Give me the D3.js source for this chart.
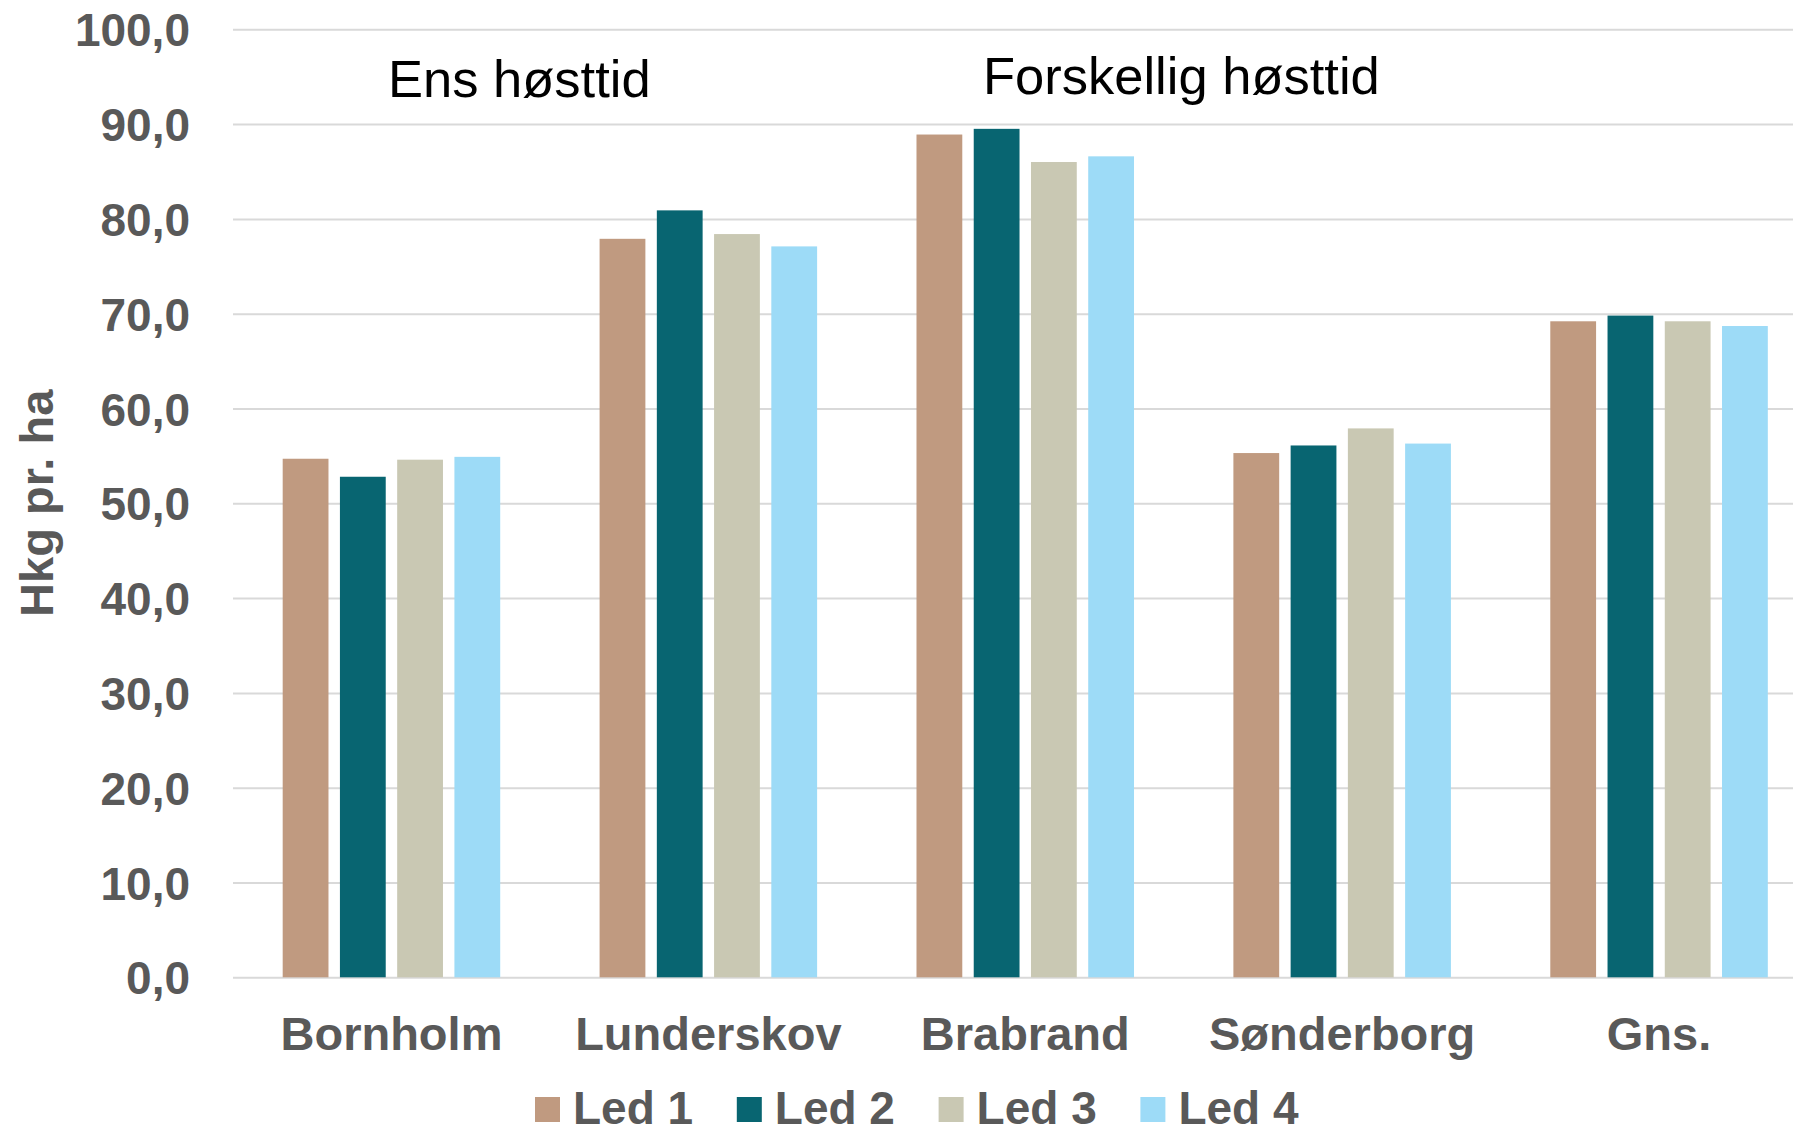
<!DOCTYPE html>
<html>
<head>
<meta charset="utf-8">
<script src="https://cdn.jsdelivr.net/npm/d3@7"></script>
<style>
    body { margin: 0; background: #fff; }
    svg { display: block; font-family: Arial, "Liberation Sans", sans-serif; }
</style>
</head>
<body>
<svg id="chart" width="1793" height="1129"></svg>
<script>
const categories = ["Bornholm", "Lunderskov", "Brabrand", "Sønderborg", "Gns."];
const seriesNames = ["Led 1", "Led 2", "Led 3", "Led 4"];
const led1 = [54.7, 77.9, 88.9, 55.3, 69.2];
const led2 = [52.8, 80.9, 89.5, 56.1, 69.8];
const led3 = [54.6, 78.4, 86.0, 57.9, 69.2];
const led4 = [54.9, 77.1, 86.6, 56.3, 68.7];
const yTicks = [0, 10, 20, 30, 40, 50, 60, 70, 80, 90, 100];
const colors = ["#C09A80", "#086571", "#C9C8B3", "#9DDBF7"];
const notes = [
    { text: "Ens høsttid", x: 388, y: 97 },
    { text: "Forskellig høsttid", x: 983, y: 94 },
];

const series = [led1, led2, led3, led4];
const svg = d3.select("#chart");
const plotLeft = 233, plotTop = 29.3, plotBottom = 977.3;
const bandStep = 316.9;

const x0 = d3
    .scaleBand()
    .domain(categories)
    .range([plotLeft, plotLeft + bandStep * categories.length]);
const x1 = d3
    .scaleBand()
    .domain(seriesNames)
    .range([0, x0.bandwidth()])
    .paddingInner(0.2)
    .paddingOuter(0.868);
const y = d3.scaleLinear().domain([0, 100]).range([plotBottom, plotTop]);

// grid + tick labels
const yAxis = svg
    .append("g")
    .attr("transform", `translate(${plotLeft},0)`)
    .call(
        d3
            .axisLeft(y)
            .tickValues(yTicks)
            .tickSize(-(x0.range()[1] - plotLeft))
            .tickPadding(43)
            .tickFormat((d) => d.toFixed(1).replace(".", ","))
    );
yAxis.select(".domain").remove();
yAxis.selectAll(".tick line").attr("stroke", "#D9D9D9").attr("stroke-width", 2);
yAxis
    .selectAll(".tick text")
    .attr("fill", "#595959")
    .style("font-size", "46px")
    .style("font-weight", "bold")
    .attr("dy", "0.36em");

// bars
const rows = categories.map((c, i) => ({
    cat: c,
    vals: seriesNames.map((s, j) => ({ s: s, v: series[j][i], j: j })),
}));
svg.append("g")
    .selectAll("g")
    .data(rows)
    .enter()
    .append("g")
    .attr("transform", (d) => `translate(${x0(d.cat)},0)`)
    .selectAll("rect")
    .data((d) => d.vals)
    .enter()
    .append("rect")
    .attr("x", (d) => x1(d.s))
    .attr("width", x1.bandwidth())
    .attr("y", (d) => y(d.v))
    .attr("height", (d) => y(0) - y(d.v))
    .attr("fill", (d) => colors[d.j]);

// category labels
const xAxis = svg
    .append("g")
    .attr("transform", `translate(0,${plotBottom})`)
    .call(d3.axisBottom(x0).tickSize(0));
xAxis.select(".domain").remove();
xAxis
    .selectAll(".tick text")
    .attr("fill", "#595959")
    .attr("y", 73)
    .attr("dy", 0)
    .style("font-size", "47px")
    .style("font-weight", "bold");

// y title
svg.append("text")
    .attr("transform", `translate(53,${(plotTop + plotBottom) / 2}) rotate(-90)`)
    .attr("text-anchor", "middle")
    .attr("fill", "#595959")
    .style("font-size", "47px")
    .style("font-weight", "bold")
    .text("Hkg pr. ha");

// annotations
svg.append("g")
    .selectAll("text")
    .data(notes)
    .enter()
    .append("text")
    .attr("x", (d) => d.x)
    .attr("y", (d) => d.y)
    .attr("fill", "#000")
    .style("font-size", "52.5px")
    .text((d) => d.text);

// legend
const legend = svg
    .append("g")
    .selectAll("g")
    .data(seriesNames)
    .enter()
    .append("g")
    .attr("transform", (d, i) => `translate(${535 + i * 201.8},0)`);
legend
    .append("rect")
    .attr("y", 1097)
    .attr("width", 25)
    .attr("height", 25)
    .attr("fill", (d, i) => colors[i]);
legend
    .append("text")
    .attr("x", 38)
    .attr("y", 1124)
    .attr("fill", "#595959")
    .style("font-size", "46px")
    .style("font-weight", "bold")
    .text((d) => d);
</script>
</body>
</html>
